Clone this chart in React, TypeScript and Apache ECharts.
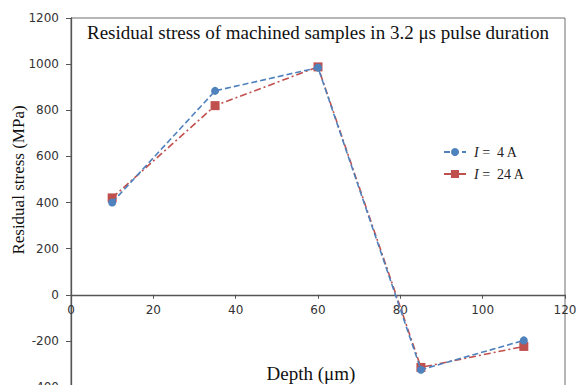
import React, { useEffect, useRef } from "react";
import * as echarts from "echarts";

const depths = [10, 35, 60, 85, 110];
const stress4A = [400, 884, 985, -325, -198];
const stress24A = [420, 820, 988, -315, -224];
const seriesNames = ["I = 4 A", "I = 24 A"];
const titleText = "Residual stress of machined samples in 3.2 μs pulse duration";
const xName = "Depth (μm)";
const yName = "Residual stress (MPa)";
const yMin = -400;
const yMax = 1200;

const serif = "'Liberation Serif', 'Times New Roman', serif";
const sans = "'DejaVu Sans', Verdana, sans-serif";

const CHART_H = 400;
const GRID_TOP = 18;
const GRID_BOTTOM = 13;

export default function App() {
  const ref = useRef<HTMLDivElement>(null);
  useEffect(() => {
    if (!ref.current) return;
    const chart = echarts.init(ref.current, undefined, { renderer: "svg" });
    const pair = (ys: number[]) => depths.map((x, i) => [x, ys[i]]);
    const gridH = CHART_H - GRID_TOP - GRID_BOTTOM;
    const zeroOffset = -(gridH * (0 - yMin)) / (yMax - yMin);
    chart.setOption({
      animation: false,
      backgroundColor: "#ffffff",
      title: {
        text: titleText,
        left: 87,
        top: 23,
        padding: 0,
        textStyle: { fontFamily: serif, fontSize: 19, fontWeight: "normal", color: "#111" },
      },
      grid: {
        left: 71,
        right: 13,
        top: GRID_TOP,
        bottom: GRID_BOTTOM,
        containLabel: false,
        outerBoundsMode: "none",
        show: true,
        borderColor: "#6f6f6f",
        borderWidth: 1,
      },
      legend: {
        orient: "vertical",
        left: 443,
        top: 145,
        padding: 0,
        itemWidth: 22,
        itemHeight: 10,
        itemGap: 8,
        data: seriesNames,
        formatter: (name: string) => {
          const rest = name.slice(1).replace("= ", "=  ");
          return "{i|I}" + "{t|" + rest + "}";
        },
        textStyle: {
          fontFamily: serif,
          fontSize: 14,
          color: "#222",
          rich: {
            i: { fontFamily: serif, fontSize: 14, fontStyle: "italic", color: "#222", padding: [0, 0, 0, 3] },
            t: { fontFamily: serif, fontSize: 14, color: "#222" },
          },
        },
      },
      xAxis: {
        type: "value",
        min: 0,
        max: 120,
        interval: 20,
        position: "bottom",
        offset: zeroOffset,
        axisLine: { onZero: false, lineStyle: { color: "#555", width: 1.3 } },
        axisTick: { show: true, length: 4, lineStyle: { color: "#555" } },
        axisLabel: { fontFamily: sans, fontSize: 12, color: "#333", margin: 9, formatter: (v: number) => String(v) },
        splitLine: { show: false },
      },
      yAxis: {
        type: "value",
        min: yMin,
        max: yMax,
        interval: 200,
        axisLine: { show: true, onZero: false, lineStyle: { color: "#555", width: 1.3 } },
        axisTick: { show: true, length: 5, lineStyle: { color: "#555" } },
        axisLabel: { fontFamily: sans, fontSize: 12, color: "#333", margin: 12, formatter: (v: number) => String(v) },
        splitLine: { show: false },
      },
      graphic: [
        {
          type: "text",
          x: 18,
          y: 180,
          rotation: Math.PI / 2,
          style: {
            text: yName,
            fontFamily: serif,
            fontSize: 17,
            fill: "#111",
            align: "center",
            verticalAlign: "middle",
          },
        },
        {
          type: "text",
          x: 311,
          y: 373,
          style: {
            text: xName,
            fontFamily: serif,
            fontSize: 19,
            fill: "#111",
            align: "center",
            verticalAlign: "middle",
          },
        },
      ],
      series: [
        {
          name: seriesNames[0],
          type: "line",
          data: pair(stress4A),
          symbol: "circle",
          symbolSize: 8,
          itemStyle: { color: "#4f81bd" },
          lineStyle: { color: "#4f81bd", width: 1.6, type: [6, 3] },
          z: 3,
        },
        {
          name: seriesNames[1],
          type: "line",
          data: pair(stress24A),
          symbol: "rect",
          symbolSize: 9,
          itemStyle: { color: "#c0504d" },
          lineStyle: { color: "#c0504d", width: 1.6, type: [7, 3, 2, 3] },
          z: 2,
        },
      ],
    });
    return () => chart.dispose();
  }, []);
  return (
    <div
      style={{ position: "fixed", left: 0, top: 0, width: 578, height: 385, overflow: "hidden", background: "#fff" }}
    >
      <div ref={ref} style={{ width: 578, height: CHART_H }} />
    </div>
  );
}
